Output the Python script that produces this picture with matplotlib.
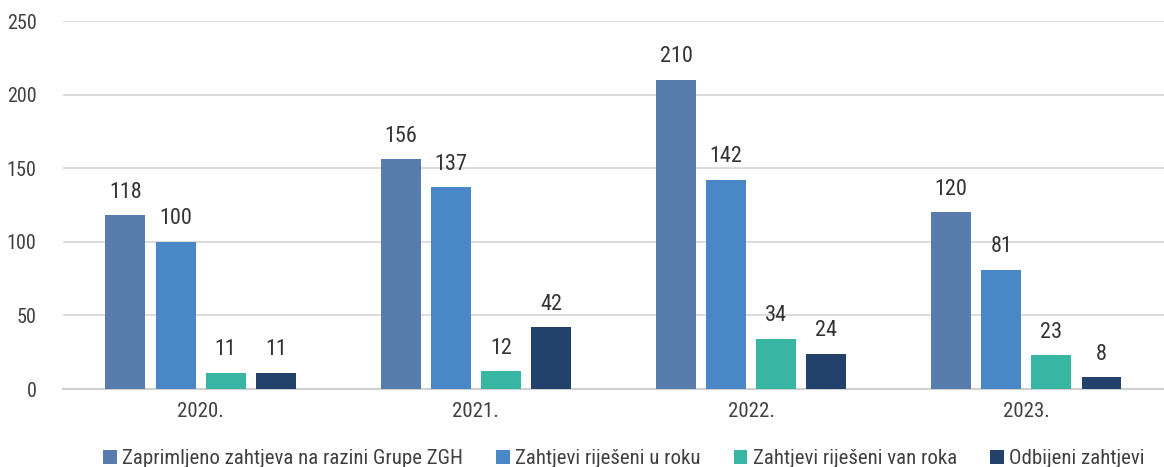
import matplotlib
matplotlib.use("Agg")
import matplotlib.pyplot as plt
import numpy as np

plt.rcParams['font.family'] = ['Roboto Condensed', 'DejaVu Sans']

years = ["2020.", "2021.", "2022.", "2023."]
series_names = ["Zaprimljeno zahtjeva na razini Grupe ZGH", "Zahtjevi riješeni u roku",
                "Zahtjevi riješeni van roka", "Odbijeni zahtjevi"]
zaprimljeno = [118, 156, 210, 120]
u_roku = [100, 137, 142, 81]
van_roka = [11, 12, 34, 23]
odbijeni = [11, 42, 24, 8]
colors = ["#587cab", "#4a87c7", "#38b6a3", "#22416b"]

fig = plt.figure(figsize=(11.64, 4.67), dpi=100)
ax = fig.add_axes([0.0541, 0.167, 0.9459, 0.788])

x = np.arange(len(years))
w = 0.145
step = 0.182
data = [zaprimljeno, u_roku, van_roka, odbijeni]
for i, (vals, c, n) in enumerate(zip(data, colors, series_names)):
    pos = x + (i - 1.5) * step
    bars = ax.bar(pos, vals, width=w, color=c, label=n, zorder=3)
    for b, v in zip(bars, vals):
        ax.annotate(str(v), (b.get_x() + b.get_width() / 2, v), xytext=(0, 9),
                    textcoords="offset points", ha="center", va="bottom",
                    fontsize=16, color="#333333")

ax.set_xlim(-0.5, 3.5)
ax.set_ylim(0, 250)
ax.set_yticks([0, 50, 100, 150, 200, 250])
ax.set_xticks(x)
ax.set_xticklabels(years)
ax.yaxis.grid(True, color="#d9d9d9", linewidth=1.3, zorder=0)
for s in ["top", "right", "left"]:
    ax.spines[s].set_visible(False)
ax.spines["bottom"].set_color("#d0d0d0")
ax.spines["bottom"].set_linewidth(1.5)
ax.tick_params(axis="both", length=0, colors="#404040")
ax.tick_params(axis="y", pad=19, labelsize=14.5)
ax.tick_params(axis="x", pad=9, labelsize=15)

leg = fig.legend(loc="upper center", bbox_to_anchor=(0.536, 0.038), ncol=4,
                 frameon=False, fontsize=15, handlelength=0.65, handleheight=0.65,
                 handletextpad=0.25, columnspacing=1.6, borderaxespad=0,
                 borderpad=0)
for t in leg.get_texts():
    t.set_color("#404040")

fig.savefig("out.png", dpi=100)
